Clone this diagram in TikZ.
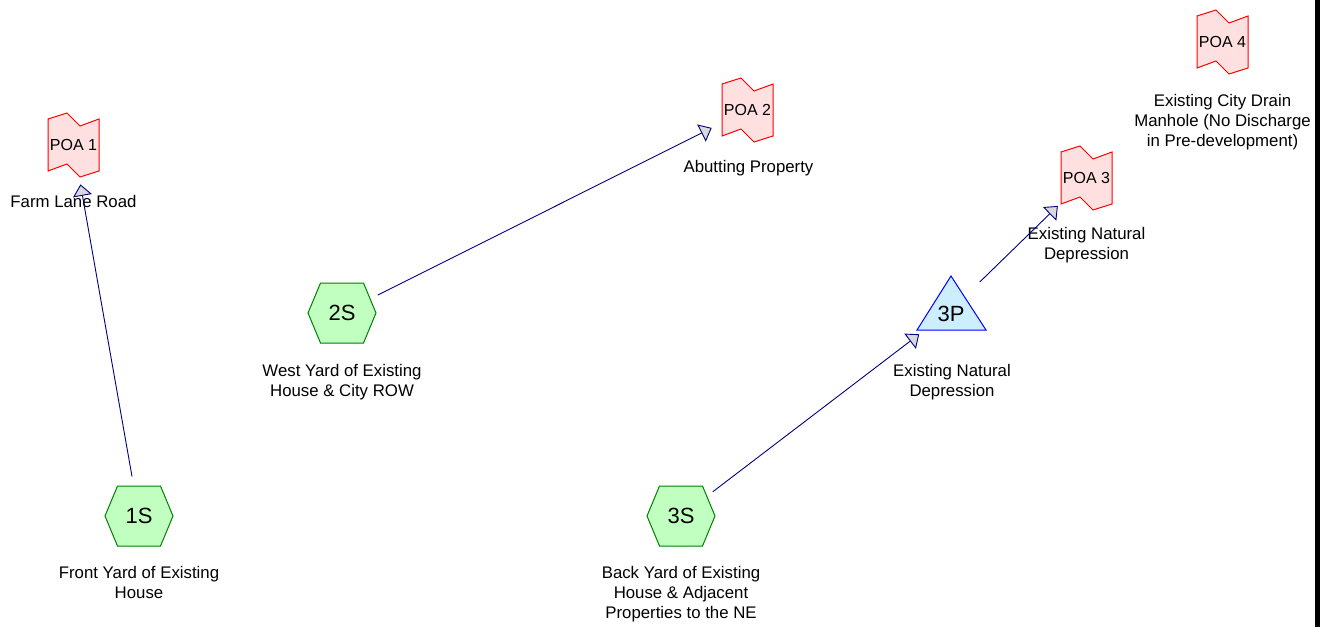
\documentclass[tikz,border=0pt]{standalone}
\usepackage{fontspec}
\setmainfont{Liberation Sans}
\usetikzlibrary{arrows.meta}
\definecolor{flowc}{HTML}{000080}
\definecolor{hexfill}{HTML}{C0FFC0}
\definecolor{hexline}{HTML}{008000}
\definecolor{pondfill}{HTML}{CCEEFF}
\definecolor{pondline}{HTML}{0000FF}
\definecolor{poafill}{HTML}{FFE0E0}
\definecolor{poaline}{HTML}{FF0000}
\definecolor{tipfill}{HTML}{D9D9D9}
\tikzset{
  hexshape/.style={fill=hexfill, draw=hexline, line width=1pt},
  pondshape/.style={fill=pondfill, draw=pondline, line width=1pt},
  poashape/.style={fill=poafill, draw=poaline, line width=1pt},
  bigtext/.style={inner sep=0pt, font=\fontsize{22}{26}\selectfont},
  poatext/.style={inner sep=0pt, font=\fontsize{16}{20}\selectfont},
  desc/.style={inner sep=0pt, anchor=north, align=center, font=\fontsize{16.8}{20}\selectfont},
  flow/.style={draw=flowc, line width=0.9pt, shorten <=40pt, shorten >=40pt,
    -{Triangle[length=11.5pt,width=19pt,fill=tipfill]}},
}
\newcommand\hexnode[4]{%
  \filldraw[hexshape] (#2-34,#3) -- (#2-21.5,#3-30) -- (#2+21.5,#3-30) -- (#2+34,#3)
    -- (#2+21.5,#3+30) -- (#2-21.5,#3+30) -- cycle;
  \node[bigtext] (#1) at (#2,#3) {#4};}
\newcommand\poanode[4]{%
  \filldraw[poashape] (#2,#3) -- ++(19,-6) -- ++(13,13) -- ++(19,-7) -- ++(0,52)
    -- ++(-19,6) -- ++(-13,-13) -- ++(-19,7) -- cycle;
  \node[poatext] (#1) at (#2+25.5,#3+26) {#4};}
\begin{document}
\begin{tikzpicture}[x=1pt,y=-1pt]
\useasboundingbox (0,0) rectangle (1330,627);
\fill[white] (0,0) rectangle (1330,627);
\fill[black] (1315,0) rectangle (1319.5,627);

% subcatchments
\hexnode{s1}{139}{516}{1S}
\hexnode{s2}{342}{313}{2S}
\hexnode{s3}{681}{516}{3S}

% pond
\filldraw[pondshape] (951,276) -- (986,330) -- (917,330) -- cycle;
\node[bigtext] (p3) at (951,314) {3P};

% points of analysis
\poanode{poa1}{48}{119}{POA 1}
\poanode{poa2}{722}{84}{POA 2}
\poanode{poa3}{1061}{152}{POA 3}
\poanode{poa4}{1197}{16}{POA 4}

% labels
\node[desc] (l1) at (139,566.5) {Front Yard of Existing\\House};
\node[desc] (l2) at (342,364) {West Yard of Existing\\House \& City ROW};
\node[desc] (l3) at (681,566.5) {Back Yard of Existing\\House \& Adjacent\\Properties to the NE};
\node[desc] (l3p) at (952,364) {Existing Natural\\Depression};
\node[desc] (lpoa1) at (73.5,195.5) {Farm Lane Road};
\node[desc] (lpoa2) at (748.5,160.5) {Abutting Property};
\node[desc] (lpoa3) at (1086.5,227.5) {Existing Natural\\Depression};
\node[desc] (lpoa4) at (1222.5,94) {Existing City Drain\\Manhole (No Discharge\\in Pre-development)};

% connectors
\draw[flow] (s1.center) -- (poa1.center);
\draw[flow] (s2.center) -- (poa2.center);
\draw[flow] (s3.center) -- ([yshift=4pt]p3.center);
\draw[flow] ([yshift=4pt]p3.center) -- (poa3.center);
\end{tikzpicture}
\end{document}
